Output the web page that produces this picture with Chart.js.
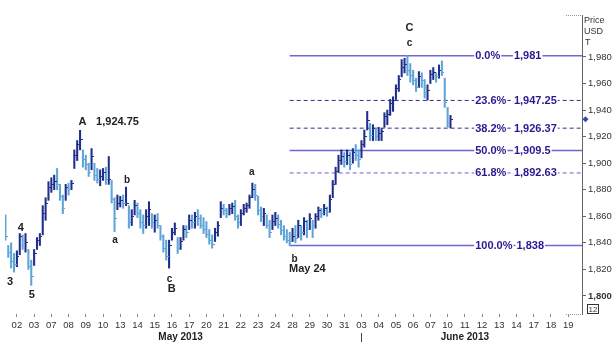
<!DOCTYPE html>
<html>
<head>
<meta charset="utf-8">
<script src="https://cdn.jsdelivr.net/npm/chart.js@4.4.1/dist/chart.umd.min.js"></script>
<style>
  html, body { margin: 0; padding: 0; background: #fff; }
  #wrap { width: 614px; height: 345px; }
</style>
</head>
<body>
<div id="wrap"><canvas id="chart"></canvas></div>
<script>
// trading days shown on the time axis
const dayLabels = ['02','03','07','08','09','10','13','14','15','16','17','20','21','22','23','24','28','29','30','31',
                   '03','04','05','06','07','10','11','12','13','14','17','18','19'];
const months = [
  { label: 'May 2013', first: 0, last: 19 },
  { label: 'June 2013', first: 20, last: 32 }
];

// gold, intraday bars (6 per day), first bar is 4 bars before May 02
const barsPerDay = 6;
const firstBar = -4;
const highs = [
  1861, 1838, 1840, 1832, 1834, 1847, 1846, 1847, 1835, 1827,
  1835, 1844, 1847, 1868, 1874, 1886, 1889, 1891, 1896, 1884,
  1876, 1884, 1885, 1887, 1910, 1917, 1924.75, 1910, 1906, 1900,
  1911, 1900, 1896, 1895, 1896, 1897, 1905, 1887, 1874, 1876,
  1875, 1876, 1882, 1868, 1865, 1872, 1870, 1865, 1861, 1865,
  1871, 1862, 1861, 1862, 1853, 1846, 1842, 1842, 1851, 1855,
  1844, 1844, 1853, 1853, 1861, 1861, 1863, 1865, 1861, 1859,
  1856, 1850, 1846, 1851, 1856, 1871, 1869, 1866, 1869, 1870,
  1872, 1861, 1865, 1869, 1870, 1876, 1885, 1884, 1875, 1867,
  1866, 1861, 1857, 1861, 1863, 1861, 1857, 1853, 1850, 1848,
  1851, 1853, 1857, 1853, 1859, 1857, 1862, 1857, 1862, 1867,
  1866, 1869, 1867, 1876, 1887, 1897, 1906, 1910, 1908, 1910,
  1908, 1911, 1914, 1910, 1917, 1925, 1939, 1930, 1929, 1926,
  1927, 1926, 1938, 1940, 1948, 1950, 1959, 1966, 1978, 1979,
  1981, 1975, 1970, 1964, 1969, 1968, 1963, 1959, 1970, 1972,
  1968, 1974, 1977, 1964, 1942, 1936
];
const lows = [
  1842, 1829, 1821, 1818, 1822, 1831, 1835, 1833, 1820, 1808,
  1823, 1835, 1838, 1846, 1857, 1872, 1878, 1880, 1880, 1872,
  1862, 1872, 1876, 1880, 1896, 1902, 1910, 1897, 1895, 1890,
  1895, 1887, 1885, 1883, 1887, 1884, 1884, 1870, 1848.5, 1865,
  1867, 1866, 1868, 1851, 1853, 1861, 1859, 1851, 1847, 1851,
  1853, 1851, 1848, 1851, 1842, 1833, 1827, 1821, 1842, 1846,
  1832, 1835, 1842, 1844, 1850, 1851, 1851, 1853, 1851, 1847,
  1844, 1839, 1836, 1841, 1845, 1859, 1861, 1859, 1861, 1862,
  1857, 1851, 1853, 1861, 1863, 1866, 1874, 1872, 1861, 1856,
  1853, 1851, 1844, 1850, 1853, 1851, 1846, 1842, 1840, 1838,
  1841, 1840, 1844, 1842, 1846, 1844, 1850, 1844, 1851, 1857,
  1859, 1861, 1860, 1863, 1874, 1884, 1893, 1899, 1897, 1899,
  1895, 1900, 1902, 1897, 1904, 1912, 1925, 1917, 1917, 1917,
  1917, 1917, 1927, 1929, 1936, 1939, 1948, 1954, 1965, 1968,
  1966, 1961, 1959, 1954, 1957, 1957, 1949, 1947.5, 1960, 1963,
  1961, 1964, 1966, 1942, 1927, 1926.5
];
const closes = [
  1845, 1833, 1826, 1824, 1830, 1845, 1838, 1840, 1822, 1815,
  1832, 1842, 1845, 1862, 1870, 1882, 1884, 1886, 1884, 1875,
  1866, 1882, 1880, 1885, 1906, 1914, 1918, 1903, 1899, 1893,
  1905, 1891, 1888, 1890, 1893, 1888, 1888, 1873, 1858, 1870,
  1872, 1870, 1870, 1855, 1860, 1868, 1862, 1855, 1853, 1860,
  1865, 1855, 1857, 1853, 1845, 1836, 1830, 1838, 1848, 1851,
  1836, 1841, 1850, 1848, 1857, 1855, 1860, 1858, 1853, 1850,
  1846, 1842, 1839, 1848, 1853, 1866, 1864, 1862, 1866, 1867,
  1860, 1855, 1862, 1866, 1868, 1874, 1880, 1876, 1864, 1860,
  1862, 1853, 1848, 1856, 1858, 1854, 1849, 1845, 1842, 1841,
  1845, 1843, 1853, 1848, 1856, 1850, 1858, 1853, 1860, 1864,
  1862, 1866, 1863, 1873, 1884, 1894, 1902, 1905, 1901, 1906,
  1899, 1908, 1906, 1903, 1914, 1920, 1932, 1921, 1926, 1920,
  1922, 1924, 1935, 1937, 1945, 1947, 1956, 1963, 1972, 1974,
  1970, 1966, 1962, 1957, 1965, 1962, 1953, 1955, 1967, 1968,
  1965, 1970, 1968, 1946, 1930, 1933
];

// Fibonacci retracement of the May 24 low -> June high swing
const fibPct = [0, 23.6, 38.2, 50, 61.8, 100];
const fibLevels = [1981, 1947.25, 1926.37, 1909.5, 1892.63, 1838];

const yTicks = [1800, 1820, 1840, 1860, 1880, 1900, 1920, 1940, 1960, 1980];

// wave counts: text, day position, price position
const waveLabels = [
  ['A', 3.80, 1931], ['4', 0.23, 1851], ['3', -0.40, 1810.5], ['5', 0.86, 1801],
  ['b', 6.39, 1887.3], ['a', 5.70, 1842.2], ['c', 8.86, 1812.8], ['B', 8.98, 1805.3],
  ['a', 13.64, 1893.4], ['b', 16.12, 1827.9], ['May 24', 16.86, 1820.3],
  ['C', 22.79, 2001.8], ['c', 22.79, 1990.5]
];

const X_MIN = -0.69, X_MAX = 32.8;
const Y_MIN = 1786.4, Y_MAX = 2011.6;
const DARK = '#1f2e8a', LIGHT = '#5ea4d6';
const FONT = '"Liberation Sans", Arial, sans-serif';

const barDay = i => (firstBar + i) / barsPerDay;
const isUp = closes.map((c, i) => i === 0 ? c >= (highs[i] + lows[i]) / 2 : c >= closes[i - 1]);

// small close tick to the right of each bar
function tickImage(color) {
  const c = document.createElement('canvas');
  c.width = 5; c.height = 1;
  const g = c.getContext('2d');
  g.fillStyle = color;
  g.fillRect(3, 0, 2, 1);
  return c;
}
const tickUp = tickImage(DARK), tickDown = tickImage(LIGHT);

const fibStart = barDay(lows.lastIndexOf(fibLevels[5]));
const fibStyles = {
  0: { color: '#6a6ad0', dash: [], width: 1.5 },
  23.6: { color: '#2e2e8a', dash: [4, 3], width: 1 },
  38.2: { color: '#2e2e8a', dash: [4, 3], width: 1 },
  50: { color: '#6a6ad0', dash: [], width: 1.5 },
  61.8: { color: '#7a58d0', dash: [4, 3], width: 1 },
  100: { color: '#6a6ad0', dash: [], width: 1.5 }
};

const fibSets = fibLevels.map((lvl, k) => {
  const st = fibStyles[fibPct[k]];
  return {
    type: 'line',
    data: [{ x: fibStart, y: lvl }, { x: X_MAX, y: lvl }],
    borderColor: st.color,
    borderDash: st.dash,
    borderWidth: st.width,
    pointRadius: 0,
    order: 2
  };
});

const overlay = {
  id: 'overlay',
  afterDraw(chart) {
    const ctx = chart.ctx;
    const xs = chart.scales.x, ys = chart.scales.y;
    const area = chart.chartArea;
    ctx.save();

    // retracement labels
    ctx.font = 'bold 11px ' + FONT;
    ctx.textBaseline = 'middle';
    ctx.textAlign = 'left';
    fibLevels.forEach((lvl, k) => {
      const y = ys.getPixelForValue(lvl);
      const pct = fibPct[k].toFixed(1) + '%';
      const val = lvl.toLocaleString('en-US', { maximumFractionDigits: 2 });
      const px = xs.getPixelForValue(26.6);
      const pw = ctx.measureText(pct).width;
      const vx = Math.max(xs.getPixelForValue(28.85), px + pw + 4);
      const vw = ctx.measureText(val).width;
      ctx.fillStyle = '#fff';
      ctx.fillRect(px - 1, y - 6, pw + 2, 12);
      ctx.fillRect(vx - 1, y - 6, vw + 2, 12);
      ctx.fillStyle = '#2a1890';
      ctx.fillText(pct, px, y + 0.5);
      ctx.fillText(val, vx, y + 0.5);
    });

    // wave count labels
    ctx.fillStyle = '#222';
    ctx.textAlign = 'center';
    waveLabels.forEach(([t, d, p]) => {
      ctx.font = 'bold ' + (/^[abc]$/.test(t) ? 10 : 11) + 'px ' + FONT;
      ctx.fillText(t, xs.getPixelForValue(d), ys.getPixelForValue(p));
    });
    // wave A high
    const aHigh = Math.max(...highs.slice(0, 60));
    ctx.font = 'bold 11px ' + FONT;
    ctx.fillText(aHigh.toLocaleString('en-US', { minimumFractionDigits: 2 }),
      xs.getPixelForValue(5.84), ys.getPixelForValue(1931));

    // axis caption
    ctx.font = '9px ' + FONT;
    ctx.fillStyle = '#333';
    ctx.textAlign = 'left';
    ctx.fillText('Price', area.right + 2, 21);
    ctx.fillText('USD', area.right + 2, 32);
    ctx.fillText('T', area.right + 3, 43);

    // last price marker
    const ly = ys.getPixelForValue(closes[closes.length - 1]);
    const lx = area.right + 3.5;
    ctx.fillStyle = '#2a50a8';
    ctx.beginPath();
    ctx.moveTo(lx, ly - 3); ctx.lineTo(lx + 3, ly); ctx.lineTo(lx, ly + 3); ctx.lineTo(lx - 3, ly);
    ctx.closePath(); ctx.fill();

    // interval box
    ctx.strokeStyle = '#333';
    ctx.lineWidth = 1;
    ctx.strokeRect(area.right + 5.5, 304.5, 11, 9);
    ctx.fillStyle = '#333';
    ctx.font = '8px ' + FONT;
    ctx.textAlign = 'center';
    ctx.fillText('12', area.right + 11, 309.5);

    // corner fragments of the frame
    ctx.strokeStyle = '#999';
    ctx.setLineDash([1, 1]);
    ctx.beginPath();
    ctx.moveTo(area.right - 16, area.top + 0.5); ctx.lineTo(area.right, area.top + 0.5);
    ctx.moveTo(area.right - 16, area.bottom + 0.5); ctx.lineTo(area.right, area.bottom + 0.5);
    ctx.stroke();
    ctx.setLineDash([]);

    // month separator
    const sx = Math.round(xs.getPixelForValue(months[1].first)) + 0.5;
    ctx.strokeStyle = '#444';
    ctx.beginPath();
    ctx.moveTo(sx, 333); ctx.lineTo(sx, 342);
    ctx.stroke();

    ctx.restore();
  }
};

new Chart(document.getElementById('chart'), {
  type: 'bar',
  data: {
    datasets: [
      {
        type: 'bar',
        data: highs.map((h, i) => ({ x: barDay(i), y: [lows[i], h] })),
        backgroundColor: isUp.map(u => u ? DARK : LIGHT),
        barThickness: 1.4,
        order: 1
      },
      {
        type: 'line',
        showLine: false,
        data: closes.map((c, i) => ({ x: barDay(i), y: c })),
        pointStyle: isUp.map(u => u ? tickUp : tickDown),
        pointRadius: 2,
        order: 0
      },
      ...fibSets
    ]
  },
  options: {
    responsive: true,
    maintainAspectRatio: false,
    animation: false,
    events: [],
    layout: { padding: { top: 15, left: 0, right: 0, bottom: 0 } },
    plugins: { legend: { display: false }, tooltip: { enabled: false } },
    scales: {
      x: {
        type: 'linear',
        position: 'bottom',
        offset: false,
        min: X_MIN,
        max: X_MAX,
        afterBuildTicks: s => { s.ticks = dayLabels.map((_, i) => ({ value: i })); },
        afterFit: s => { s.height = 17; },
        ticks: {
          autoSkip: false,
          maxRotation: 0,
          padding: 3,
          color: '#333',
          font: { family: FONT, size: 9.5 },
          callback: v => dayLabels[v]
        },
        grid: { offset: false, drawOnChartArea: false, tickLength: 3, color: '#888' },
        border: { display: false }
      },
      month: {
        type: 'linear',
        position: 'bottom',
        offset: false,
        min: X_MIN,
        max: X_MAX,
        afterBuildTicks: s => { s.ticks = months.map(m => ({ value: (m.first + m.last) / 2 })); },
        afterFit: s => { s.height = 14; },
        ticks: {
          autoSkip: false,
          maxRotation: 0,
          padding: 0,
          color: '#222',
          font: { family: FONT, size: 10, weight: 'bold' },
          callback: (v, i) => months[i].label
        },
        grid: { offset: false, display: false, drawTicks: false },
        border: { display: false }
      },
      y: {
        type: 'linear',
        position: 'right',
        min: Y_MIN,
        max: Y_MAX,
        afterBuildTicks: s => { s.ticks = yTicks.map(v => ({ value: v })); },
        afterFit: s => { s.width = 32; },
        ticks: {
          padding: 2,
          color: '#333',
          font: c => ({ family: FONT, size: 9.5, weight: c.tick && c.tick.value === 1800 ? 'bold' : 'normal' }),
          callback: v => v.toLocaleString('en-US')
        },
        grid: { drawOnChartArea: false, tickLength: 4, color: '#666' },
        border: { display: true, color: '#666' }
      }
    }
  },
  plugins: [overlay]
});
</script>
</body>
</html>
